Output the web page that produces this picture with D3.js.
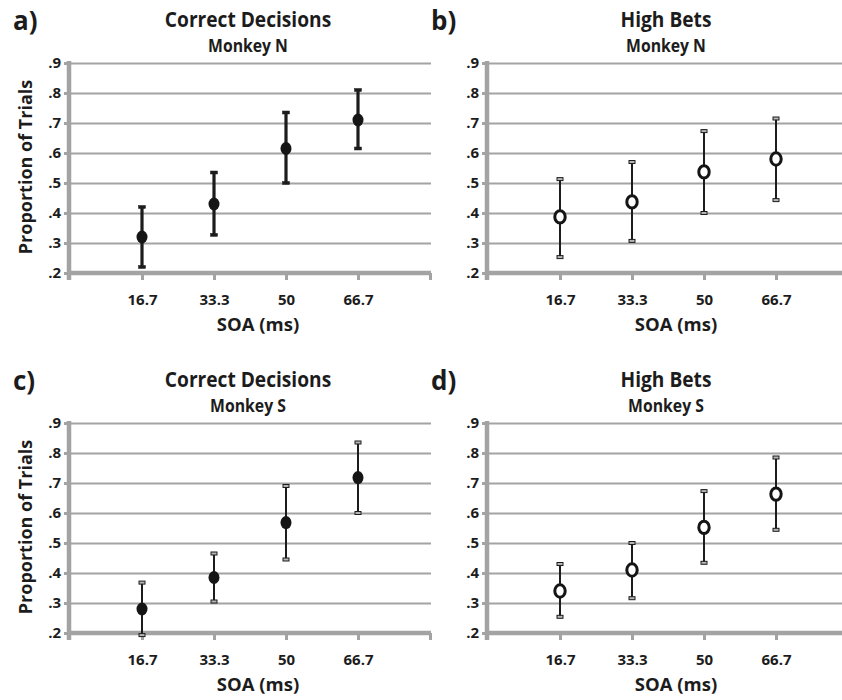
<!DOCTYPE html>
<head>
  <meta charset="utf-8">
  <style>
    body { margin: 0; background: #fff; }
    svg { display: block; }
    text { font-family: "Open Sans", sans-serif; font-weight: 700; fill: #1c1c1c; }
    .grid path, .axis path { display: none; }
    .grid line { stroke: #a3a3a3; stroke-width: 2.2px; }
    .axis line { stroke: #a3a3a3; stroke-width: 3px; }
    .axis text { font-size: 15px; fill: #1c1c1c; }
    .frame { stroke: #a3a3a3; stroke-width: 4.5px; fill: none; }
    .bar { stroke: #1c1c1c; }
  </style>
  <script src="https://d3js.org/d3.v7.min.js"></script>
</head>
<body>
  <script>
    var soaLabels = ["16.7", "33.3", "50", "66.7"];
    var yTickValues = [.2, .3, .4, .5, .6, .7, .8, .9];
    var yTickLabels = [".2", ".3", ".4", ".5", ".6", ".7", ".8", ".9"];

    // Monkey N
    var correctN = [0.32, 0.43, 0.615, 0.71];
    var correctNLow = [0.22, 0.327, 0.50, 0.615];
    var correctNHigh = [0.42, 0.535, 0.735, 0.81];
    var betsN = [0.387, 0.437, 0.537, 0.58];
    var betsNLow = [0.253, 0.307, 0.40, 0.443];
    var betsNHigh = [0.513, 0.57, 0.673, 0.715];

    // Monkey S
    var correctS = [0.28, 0.385, 0.568, 0.718];
    var correctSLow = [0.193, 0.305, 0.445, 0.60];
    var correctSHigh = [0.368, 0.465, 0.69, 0.835];
    var betsS = [0.34, 0.41, 0.552, 0.663];
    var betsSLow = [0.254, 0.316, 0.434, 0.544];
    var betsSHigh = [0.43, 0.50, 0.673, 0.785];

    var panels = [
      { tag: "a)", title: "Correct Decisions", sub: "Monkey N", mean: correctN, lo: correctNLow, hi: correctNHigh,
        open: false, heavy: true, left: 70, top: 0, gridEnd: 431, yLabel: true },
      { tag: "b)", title: "High Bets", sub: "Monkey N", mean: betsN, lo: betsNLow, hi: betsNHigh,
        open: true, heavy: false, left: 488, top: 0, gridEnd: 850, yLabel: false },
      { tag: "c)", title: "Correct Decisions", sub: "Monkey S", mean: correctS, lo: correctSLow, hi: correctSHigh,
        open: false, heavy: false, left: 70, top: 360, gridEnd: 431, yLabel: true },
      { tag: "d)", title: "High Bets", sub: "Monkey S", mean: betsS, lo: betsSLow, hi: betsSHigh,
        open: true, heavy: false, left: 488, top: 360, gridEnd: 850, yLabel: false }
    ];

    var svg = d3.select("body").append("svg")
      .attr("width", 842)
      .attr("height", 700);

    svg.append("rect").attr("width", 842).attr("height", 700).attr("fill", "#fff");

    // squeeze text to look like the narrow original face
    function condense(sel, k) {
      sel.each(function() {
        var w = this.getComputedTextLength();
        d3.select(this).attr("textLength", w * k).attr("lengthAdjust", "spacingAndGlyphs");
      });
    }

    panels.forEach(function(p) {
      var g = svg.append("g").attr("transform", "translate(0," + p.top + ")");

      var x = d3.scaleLinear().domain([0, 5]).range([p.left, p.left + 360]);
      var y = d3.scaleLinear().domain([0.2, 0.9]).range([273, 63]);
      var x0 = x(0) - 1;
      var mid = (x(0) + x(5)) / 2;

      // horizontal grid lines
      g.append("g")
        .attr("class", "grid")
        .attr("transform", "translate(" + x0 + ",0)")
        .call(d3.axisLeft(y).tickValues(yTickValues.slice(1)).tickSize(-(p.gridEnd - x0)).tickFormat(""));

      // y axis ticks + labels
      g.append("g")
        .attr("class", "axis")
        .attr("transform", "translate(" + x0 + ",0)")
        .call(d3.axisLeft(y).tickValues(yTickValues).tickSize(5).tickPadding(3)
          .tickFormat(function(d, i) { return yTickLabels[i]; }));

      // x axis ticks + labels
      g.append("g")
        .attr("class", "axis")
        .attr("transform", "translate(0," + y(0.2) + ")")
        .call(d3.axisBottom(x).tickValues([1, 2, 3, 4, 5]).tickSize(7).tickPadding(14)
          .tickFormat(function(d) { return soaLabels[d - 1] || ""; }));

      // thick axis lines
      g.append("line").attr("class", "frame")
        .attr("x1", x0).attr("x2", x0)
        .attr("y1", y(0.9) - 2).attr("y2", y(0.2) + 7);
      g.append("line").attr("class", "frame")
        .attr("x1", x0 - 2).attr("x2", p.gridEnd)
        .attr("y1", y(0.2)).attr("y2", y(0.2));

      // error bars
      var pts = p.mean.map(function(m, i) {
        return { i: i + 1, m: m, lo: p.lo[i], hi: p.hi[i] };
      });
      var sw = p.heavy ? 3.2 : 2;
      var bars = g.append("g").selectAll("g").data(pts).enter().append("g");
      bars.append("line").attr("class", "bar")
        .attr("stroke-width", sw)
        .attr("x1", function(d) { return x(d.i); })
        .attr("x2", function(d) { return x(d.i); })
        .attr("y1", function(d) { return y(d.lo); })
        .attr("y2", function(d) { return y(d.hi); });
      ["lo", "hi"].forEach(function(k) {
        bars.append("rect")
          .attr("x", function(d) { return x(d.i) - (p.heavy ? 3.5 : 3); })
          .attr("y", function(d) { return y(d[k]) - 1.5; })
          .attr("width", p.heavy ? 7 : 6)
          .attr("height", 3)
          .attr("fill", p.heavy ? "#1c1c1c" : "#b5b5b5")
          .attr("stroke", "#1c1c1c")
          .attr("stroke-width", p.heavy ? 0.5 : 1);
      });

      // markers
      g.append("g").selectAll("ellipse").data(pts).enter().append("ellipse")
        .attr("cx", function(d) { return x(d.i); })
        .attr("cy", function(d) { return y(d.m); })
        .attr("rx", p.open ? 5.2 : 5.5)
        .attr("ry", p.open ? 6.2 : 6.5)
        .attr("fill", p.open ? "#fff" : "#151515")
        .attr("stroke", "#151515")
        .attr("stroke-width", p.open ? 3 : 0);

      // titles
      g.append("text").attr("x", mid - 2).attr("y", 27)
        .attr("text-anchor", "middle").style("font-size", "22px")
        .text(p.title).call(condense, 0.87);
      g.append("text").attr("x", mid - 2).attr("y", 52)
        .attr("text-anchor", "middle").style("font-size", "17.5px")
        .text(p.sub).call(condense, 0.9);
      g.append("text").attr("x", p.left - 57).attr("y", 30)
        .style("font-size", "26px")
        .text(p.tag);

      // axis titles
      g.append("text").attr("x", mid + 8).attr("y", 331)
        .attr("text-anchor", "middle").style("font-size", "18.5px")
        .text("SOA (ms)");
      if (p.yLabel) {
        g.append("text")
          .attr("transform", "translate(32," + ((y(0.2) + y(0.9)) / 2 - 1) + ") rotate(-90)")
          .attr("text-anchor", "middle").style("font-size", "18px")
          .text("Proportion of Trials");
      }
    });
  </script>
</body>

</html>
